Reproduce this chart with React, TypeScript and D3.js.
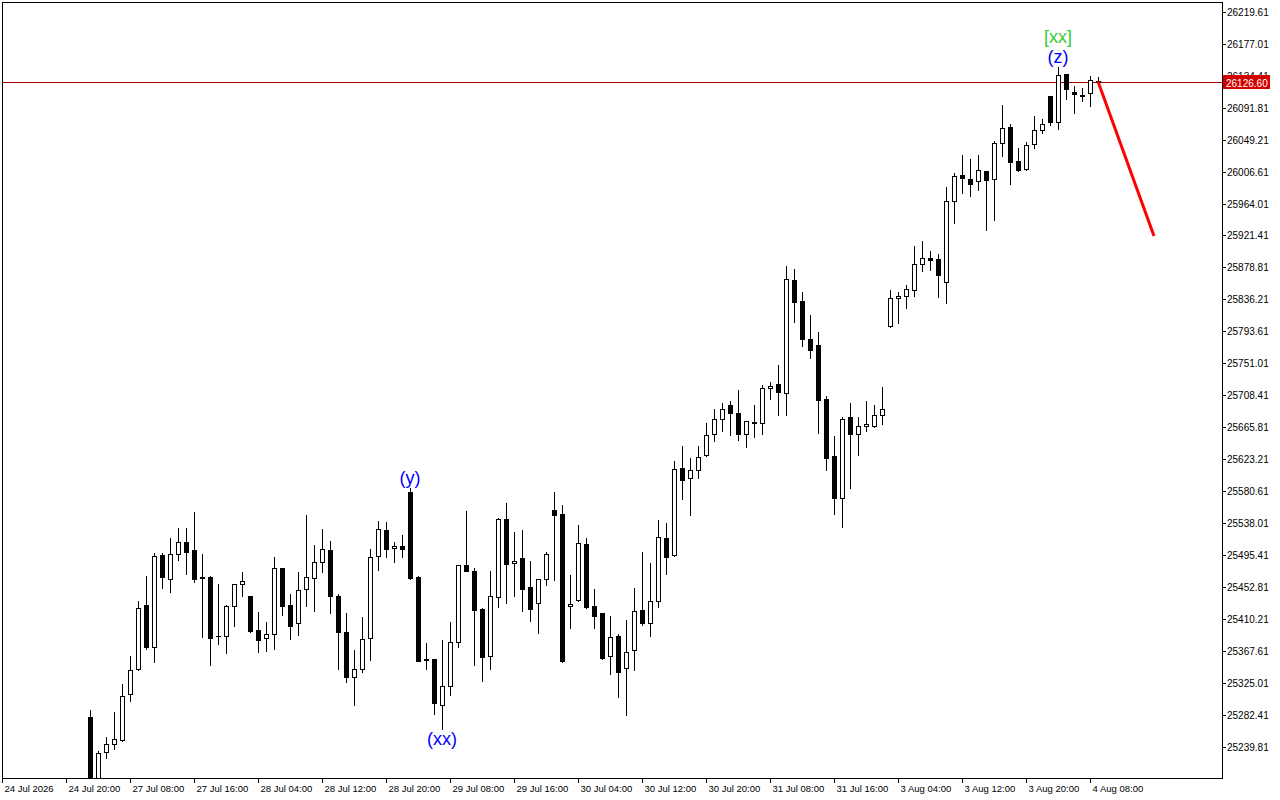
import React from "react";
import * as d3 from "d3";

// OHLC values per hourly bar (bar 0 = first bar visible at the left)
const opens = [
  25279.8, 25175.9, 25233.6, 25243.4, 25249.6, 25310.0, 25344.2, 25429.0, 25373.5, 25495.7,
  25463.3, 25496.6, 25512.6, 25501.9, 25466.3, 25466.3, 25387.7, 25387.3, 25427.3, 25456.6,
  25440.6, 25395.3, 25384.7, 25390.0, 25477.9, 25428.6, 25404.7, 25449.9, 25464.6, 25485.9,
  25501.9, 25441.0, 25392.7, 25332.7, 25343.4, 25384.7, 25493.9, 25528.6, 25504.6, 25507.3,
  25579.6, 25466.7, 25357.5, 25357.1, 25296.2, 25320.7, 25379.7, 25481.9, 25473.9, 25423.3,
  25361.5, 25440.1, 25543.2, 25484.6, 25491.3, 25452.6, 25431.3, 25464.1, 25555.2, 25549.9,
  25427.3, 25435.3, 25509.9, 25427.3, 25418.0, 25361.1, 25387.3, 25344.7, 25368.7, 25422.0,
  25405.5, 25434.0, 25517.9, 25495.3, 25611.2, 25597.9, 25608.5, 25628.5, 25656.5, 25676.5,
  25695.1, 25684.5, 25656.5, 25672.9, 25672.0, 25717.8, 25723.1, 25711.1, 25862.1, 25833.7,
  25783.1, 25775.1, 25703.1, 25627.2, 25572.0, 25679.5, 25656.5, 25667.2, 25668.0, 25681.8,
  25800.4, 25837.7, 25840.4, 25848.4, 25883.0, 25890.8, 25889.7, 25859.8, 25967.0, 26001.6,
  25996.3, 25994.0, 26007.3, 25996.3, 26044.3, 26066.0, 26020.7, 26009.6, 26043.7, 26061.6,
  26106.9, 26072.2, 26136.2, 26112.6, 26106.9, 26110.9, 26127.3,
];
const highs = [
  25289.1, 25234.5, 25252.7, 25286.5, 25323.8, 25361.5, 25434.4, 25467.7, 25497.9, 25497.9,
  25518.3, 25531.6, 25531.6, 25553.0, 25497.4, 25467.7, 25457.0, 25428.6, 25457.0, 25473.0,
  25441.0, 25419.7, 25406.4, 25492.6, 25478.3, 25443.7, 25473.0, 25549.0, 25509.0, 25530.3,
  25514.3, 25443.3, 25418.4, 25369.1, 25413.0, 25503.7, 25541.0, 25540.0, 25513.4, 25521.9,
  25584.5, 25467.7, 25378.4, 25357.1, 25382.4, 25406.0, 25482.3, 25554.3, 25478.3, 25424.6,
  25474.3, 25545.4, 25565.0, 25526.3, 25529.0, 25487.7, 25463.7, 25499.7, 25579.6, 25562.3,
  25469.0, 25535.6, 25517.9, 25450.4, 25419.0, 25414.4, 25390.4, 25409.0, 25451.3, 25499.3,
  25485.0, 25541.9, 25537.9, 25620.9, 25640.9, 25624.5, 25640.5, 25671.1, 25689.8, 25697.8,
  25700.9, 25715.5, 25674.2, 25695.5, 25722.2, 25726.2, 25748.8, 25880.8, 25876.8, 25846.1,
  25815.5, 25792.8, 25707.5, 25654.2, 25680.0, 25698.2, 25680.0, 25700.9, 25695.5, 25719.5,
  25848.8, 25846.1, 25855.0, 25907.8, 25914.1, 25900.7, 25896.7, 25986.0, 26004.7, 26028.7,
  26023.3, 26028.7, 26008.0, 26047.7, 26095.3, 26070.0, 26038.0, 26046.0, 26080.2, 26076.6,
  26107.3, 26145.5, 26136.6, 26120.6, 26117.5, 26133.9, 26132.2,
];
const lows = [
  25155.9, 25162.5, 25225.6, 25237.6, 25248.2, 25301.1, 25342.8, 25370.4, 25353.1, 25452.1,
  25446.8, 25489.0, 25470.8, 25459.7, 25386.0, 25349.5, 25377.5, 25365.5, 25401.5, 25441.4,
  25393.1, 25366.8, 25368.1, 25370.8, 25416.1, 25384.1, 25389.5, 25428.1, 25421.4, 25473.4,
  25418.8, 25343.4, 25326.0, 25295.4, 25339.4, 25356.1, 25475.3, 25493.0, 25485.9, 25493.4,
  25463.3, 25354.4, 25343.8, 25283.8, 25263.4, 25308.7, 25373.5, 25474.3, 25348.7, 25328.2,
  25344.2, 25426.8, 25432.1, 25441.4, 25421.4, 25408.1, 25392.1, 25456.1, 25462.7, 25353.1,
  25398.8, 25434.4, 25425.4, 25398.8, 25357.5, 25337.5, 25306.9, 25282.9, 25342.8, 25402.8,
  25388.1, 25426.8, 25470.8, 25494.3, 25570.7, 25549.4, 25598.7, 25627.6, 25648.0, 25661.3,
  25656.0, 25649.3, 25639.6, 25653.3, 25656.9, 25703.9, 25682.2, 25682.2, 25806.5, 25774.6,
  25758.6, 25658.6, 25608.9, 25550.7, 25533.4, 25584.9, 25629.3, 25661.3, 25666.6, 25670.2,
  25799.5, 25805.2, 25825.2, 25841.2, 25874.5, 25875.0, 25839.8, 25831.9, 25938.5, 25978.4,
  25974.4, 25982.4, 25929.1, 25942.4, 26027.7, 25990.4, 26007.7, 26008.7, 26038.4, 26058.0,
  26068.2, 26062.9, 26103.3, 26084.2, 26100.2, 26093.6, 26125.0,
];
const closes = [
  25169.2, 25231.4, 25243.4, 25250.1, 25307.4, 25342.0, 25424.6, 25373.5, 25493.9, 25466.7,
  25496.6, 25512.6, 25500.1, 25463.7, 25465.0, 25385.5, 25387.1, 25427.7, 25456.6, 25460.6,
  25394.4, 25382.0, 25390.0, 25477.9, 25428.1, 25400.7, 25448.6, 25465.9, 25485.9, 25503.3,
  25441.4, 25392.7, 25333.5, 25343.4, 25383.3, 25493.4, 25529.9, 25504.1, 25507.3, 25503.3,
  25464.6, 25354.8, 25356.1, 25298.1, 25320.7, 25379.3, 25481.9, 25474.7, 25422.8, 25360.2,
  25440.6, 25543.2, 25484.1, 25487.3, 25450.8, 25424.1, 25463.3, 25496.6, 25548.6, 25354.4,
  25430.0, 25511.3, 25426.4, 25414.8, 25358.8, 25386.0, 25340.2, 25366.0, 25420.6, 25405.5,
  25434.0, 25519.2, 25493.4, 25609.9, 25596.0, 25608.5, 25626.7, 25655.2, 25676.5, 25689.8,
  25684.5, 25656.5, 25673.8, 25672.1, 25717.8, 25721.3, 25713.3, 25863.0, 25833.2, 25783.1,
  25769.2, 25702.6, 25625.3, 25572.0, 25676.5, 25657.3, 25667.6, 25670.2, 25682.2, 25690.2,
  25837.7, 25840.4, 25849.7, 25883.4, 25891.0, 25889.4, 25868.4, 25967.0, 26000.3, 25997.6,
  25990.4, 26008.3, 25995.8, 26044.3, 26064.2, 26019.7, 26008.7, 26042.4, 26061.6, 26069.6,
  26072.2, 26134.9, 26116.2, 26109.5, 26109.0, 26129.0, 26126.6,
];

const yTickLabels = [
  "26219.61", "26177.01", "26134.41", "26091.81", "26049.21", "26006.61", "25964.01", "25921.41",
  "25878.81", "25836.21", "25793.61", "25751.01", "25708.41", "25665.81", "25623.21", "25580.61",
  "25538.01", "25495.41", "25452.81", "25410.21", "25367.61", "25325.01", "25282.41", "25239.81",
];
const xTickLabels = [
  "24 Jul 2026", "24 Jul 20:00", "27 Jul 08:00", "27 Jul 16:00", "28 Jul 04:00", "28 Jul 12:00",
  "28 Jul 20:00", "29 Jul 08:00", "29 Jul 16:00", "30 Jul 04:00", "30 Jul 12:00", "30 Jul 20:00",
  "31 Jul 08:00", "31 Jul 16:00", "3 Aug 04:00", "3 Aug 12:00", "3 Aug 20:00", "4 Aug 08:00",
];
// bar index of each time label (one label every 8 bars)
const xTickBars = [-11, -3, 5, 13, 21, 29, 37, 45, 53, 61, 69, 77, 85, 93, 101, 109, 117, 125];

const lastPrice = 26126.6;

// projected move drawn in red
const forecastBars = [126, 133];
const forecastPrices = [26126.6, 25920.7];

// Elliott wave marks
const waveTexts = ["(y)", "(xx)", "(z)", "[xx]"];
const waveBars = [40, 44, 121, 121];
const waveSides = ["above", "below", "above", "above2"];
const waveColors = ["#0000ff", "#0000ff", "#0000ff", "#33cc33"];

const W = 1280;
const H = 800;
const plot = { left: 2, top: 2, right: 1222, bottom: 778 };

export default function App() {
  const x = d3.scaleLinear().domain([-11, 126]).range([2, 1098]);
  const y = d3.scaleLinear().domain([25239.81, 26219.61]).range([747, 11.7]);

  const bars = d3.range(opens.length);
  const priceY = Math.round(y(lastPrice)) + 0.5;
  const axisFont = "'Liberation Sans', Arial, sans-serif";

  const line = d3
    .line<number>()
    .x((_, i) => x(forecastBars[i]))
    .y((d) => y(d));

  return (
    <svg
      width={W}
      height={H}
      style={{ position: "fixed", left: 0, top: 0, background: "#fff" }}
    >
      <defs>
        <clipPath id="plotClip">
          <rect
            x={plot.left}
            y={plot.top}
            width={plot.right - plot.left}
            height={plot.bottom - plot.top}
          />
        </clipPath>
      </defs>
      <rect x={0} y={0} width={W} height={H} fill="#fff" />

      {/* current price line */}
      <line
        x1={plot.left}
        x2={plot.right}
        y1={priceY}
        y2={priceY}
        stroke="#a80000"
        strokeWidth={1}
        shapeRendering="crispEdges"
      />

      <g clipPath="url(#plotClip)" shapeRendering="crispEdges">
        {bars.map((i) => {
          const cx = Math.round(x(i));
          const o = opens[i];
          const c = closes[i];
          const top = Math.round(y(Math.max(o, c)));
          const bot = Math.round(y(Math.min(o, c)));
          const bull = c >= o;
          return (
            <g key={i}>
              <line
                x1={cx + 0.5}
                x2={cx + 0.5}
                y1={Math.round(y(highs[i]))}
                y2={Math.round(y(lows[i])) + 1}
                stroke="#000"
              />
              {bot - top < 1 ? (
                <line
                  x1={cx - 2}
                  x2={cx + 3}
                  y1={top + 0.5}
                  y2={top + 0.5}
                  stroke="#000"
                />
              ) : (
                <rect
                  x={cx - 1.5}
                  y={top + 0.5}
                  width={4}
                  height={bot - top}
                  fill={bull ? "#fff" : "#000"}
                  stroke="#000"
                  strokeWidth={1}
                />
              )}
            </g>
          );
        })}
      </g>

      {/* forecast */}
      <path
        d={line(forecastPrices) || ""}
        fill="none"
        stroke="#ff0000"
        strokeWidth={3}
      />

      {/* wave labels */}
      {waveTexts.map((t, k) => {
        const b = waveBars[k];
        const side = waveSides[k];
        let ty = 0;
        if (side === "above") ty = y(highs[b]) - 4;
        else if (side === "above2") ty = y(highs[b]) - 24;
        else ty = y(lows[b]) + 16;
        return (
          <text
            key={t}
            x={x(b)}
            y={ty}
            textAnchor="middle"
            fontFamily="'Liberation Sans', Arial, sans-serif"
            fontSize={18}
            fill={waveColors[k]}
          >
            {t}
          </text>
        );
      })}

      {/* frame */}
      <g shapeRendering="crispEdges">
        <rect
          x={plot.left + 0.5}
          y={plot.top + 0.5}
          width={plot.right - plot.left}
          height={plot.bottom - plot.top}
          fill="none"
          stroke="#000"
        />
      </g>

      {/* y axis */}
      <g fontFamily={axisFont} fontSize={10} fill="#000" shapeRendering="crispEdges">
        {yTickLabels.map((lbl) => {
          const ty = Math.round(y(parseFloat(lbl))) + 0.5;
          return (
            <g key={lbl}>
              <line x1={plot.right} x2={plot.right + 4} y1={ty} y2={ty} stroke="#000" />
              <text x={plot.right + 5} y={ty + 3.5}>
                {lbl}
              </text>
            </g>
          );
        })}
        <rect x={plot.right + 1} y={priceY - 7.5} width={47} height={14} fill="#d40000" />
        <text x={plot.right + 4} y={priceY + 4} fill="#fff">
          {lastPrice.toFixed(2)}
        </text>
      </g>

      {/* x axis */}
      <g fontFamily={axisFont} fontSize={9.5} fill="#000" shapeRendering="crispEdges">
        {xTickLabels.map((lbl, k) => {
          const tx = Math.round(x(xTickBars[k])) + 0.5;
          return (
            <g key={lbl}>
              <line x1={tx} x2={tx} y1={plot.bottom} y2={plot.bottom + 5} stroke="#000" />
              <text x={tx + 2} y={plot.bottom + 14}>
                {lbl}
              </text>
            </g>
          );
        })}
      </g>
    </svg>
  );
}
